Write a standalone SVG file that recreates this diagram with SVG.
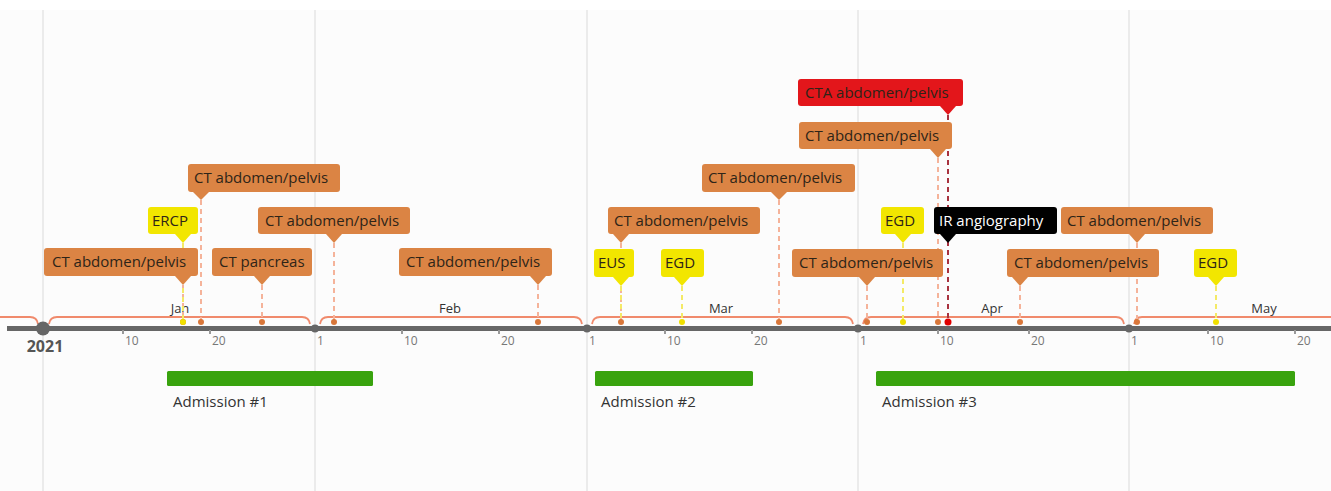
<svg xmlns="http://www.w3.org/2000/svg" width="1331" height="491" viewBox="0 0 1331 491">
<style>
text{font-family:"Open Sans","Noto Sans","Liberation Sans",sans-serif}
.grid{stroke:#e6e6e6;stroke-width:1.5}
.brk{fill:none;stroke:#f08a6c;stroke-width:1.8}
.mon{font-size:13px;fill:#333;text-anchor:middle}
.day{font-size:12px;fill:#777}
.tick{stroke:#999;stroke-width:2}
.adm{fill:#39a30e}
.admt{font-size:15px;fill:#333}
.lbl{font-size:15px;fill:#2e2418}
.o{fill:#db8444}
.y{fill:#f2e600}
.r{fill:#e3161b}
.k{fill:#000}
.lo{stroke:#f5b39a;stroke-width:2;stroke-dasharray:5 4}
.ly{stroke:#f4ea66;stroke-width:2;stroke-dasharray:5 4}
.lk{stroke:#a8323f;stroke-width:2;stroke-dasharray:5 4}
.dO{fill:#d9773a}
.dY{fill:#f0e000}
.dR{fill:#e00000}
</style>
<rect width="1331" height="491" fill="#fff"/>
<rect x="0" y="10" width="1331" height="481" fill="#fcfcfc"/>
<g id="gridlines">
<line class="grid" x1="43" y1="10" x2="43" y2="491"/>
<line class="grid" x1="315" y1="10" x2="315" y2="491"/>
<line class="grid" x1="587" y1="10" x2="587" y2="491"/>
<line class="grid" x1="858" y1="10" x2="858" y2="491"/>
<line class="grid" x1="1129" y1="10" x2="1129" y2="491"/>
</g>
<g id="brackets">
<path class="brk" d="M0 317 H30 Q37 317 38 324"/>
<path class="brk" d="M49 324 Q50 317 57 317 H302 Q309 317 310 324"/>
<path class="brk" d="M320 324 Q321 317 328 317 H574 Q581 317 582 324"/>
<path class="brk" d="M592 324 Q593 317 600 317 H845 Q852 317 853 324"/>
<path class="brk" d="M863 324 Q864 317 871 317 H1116 Q1123 317 1124 324"/>
<path class="brk" d="M1134 324 Q1135 317 1142 317 H1331"/>
<text class="mon" x="180" y="313">Jan</text>
<text class="mon" x="450" y="313">Feb</text>
<text class="mon" x="721" y="313">Mar</text>
<text class="mon" x="992" y="313">Apr</text>
<text class="mon" x="1264" y="313">May</text>
</g>
<g id="axis">
<line x1="7" y1="328.5" x2="1331" y2="328.5" stroke="#666" stroke-width="5"/>
<g class="tick">
<line x1="123" y1="330" x2="123" y2="334"/><line x1="210" y1="330" x2="210" y2="334"/>
<line x1="402" y1="330" x2="402" y2="334"/><line x1="499" y1="330" x2="499" y2="334"/>
<line x1="665" y1="330" x2="665" y2="334"/><line x1="752" y1="330" x2="752" y2="334"/>
<line x1="938" y1="330" x2="938" y2="334"/><line x1="1029" y1="330" x2="1029" y2="334"/>
<line x1="1208" y1="330" x2="1208" y2="334"/><line x1="1295" y1="330" x2="1295" y2="334"/>
</g>
<circle cx="43" cy="328.5" r="7" fill="#666"/>
<circle cx="315" cy="328.5" r="4" fill="#666"/>
<circle cx="587" cy="328.5" r="4" fill="#666"/>
<circle cx="858" cy="328.5" r="4" fill="#666"/>
<circle cx="1129" cy="328.5" r="4" fill="#666"/>
<text x="45" y="352" font-size="16" font-weight="bold" fill="#555" text-anchor="middle">2021</text>
<text class="day" x="125" y="345">10</text><text class="day" x="212" y="345">20</text>
<text class="day" x="317" y="345">1</text><text class="day" x="404" y="345">10</text><text class="day" x="501" y="345">20</text>
<text class="day" x="589" y="345">1</text><text class="day" x="667" y="345">10</text><text class="day" x="754" y="345">20</text>
<text class="day" x="860" y="345">1</text><text class="day" x="940" y="345">10</text><text class="day" x="1031" y="345">20</text>
<text class="day" x="1131" y="345">1</text><text class="day" x="1210" y="345">10</text><text class="day" x="1297" y="345">20</text>
</g>
<g id="connectors">
<line class="lo" x1="183" y1="285" x2="183" y2="322"/>
<line class="ly" x1="183" y1="243" x2="183" y2="322"/>
<line class="lo" x1="201" y1="200" x2="201" y2="322"/>
<line class="lo" x1="262" y1="285" x2="262" y2="322"/>
<line class="lo" x1="334" y1="243" x2="334" y2="322"/>
<line class="lo" x1="538" y1="285" x2="538" y2="322"/>
<line class="lo" x1="621" y1="243" x2="621" y2="322"/>
<line class="ly" x1="621" y1="286" x2="621" y2="322"/>
<line class="ly" x1="682" y1="286" x2="682" y2="322"/>
<line class="lo" x1="779" y1="200" x2="779" y2="322"/>
<line class="lo" x1="867" y1="286" x2="867" y2="322"/>
<line class="ly" x1="903" y1="243" x2="903" y2="322"/>
<line class="lo" x1="938" y1="158" x2="938" y2="322"/>
<line class="lk" x1="948" y1="115" x2="948" y2="322"/>
<line class="lo" x1="1020" y1="286" x2="1020" y2="322"/>
<line class="lo" x1="1137" y1="243" x2="1137" y2="322"/>
<line class="ly" x1="1216" y1="286" x2="1216" y2="322"/>
<circle class="dO" cx="183" cy="322" r="3"/><circle class="dY" cx="183" cy="322" r="3"/>
<circle class="dO" cx="201" cy="322" r="3"/><circle class="dO" cx="262" cy="322" r="3"/>
<circle class="dO" cx="334" cy="322" r="3"/><circle class="dO" cx="538" cy="322" r="3"/>
<circle class="dO" cx="621" cy="322" r="3"/><circle class="dY" cx="682" cy="322" r="3"/>
<circle class="dO" cx="779" cy="322" r="3"/><circle class="dO" cx="867" cy="322" r="3"/>
<circle class="dY" cx="903" cy="322" r="3"/><circle class="dO" cx="938" cy="322" r="3"/>
<circle class="dR" cx="948" cy="322" r="3.5"/><circle class="dO" cx="1020" cy="322" r="3"/>
<circle class="dO" cx="1137" cy="322" r="3"/><circle class="dY" cx="1216" cy="322" r="3"/>
</g>
<g id="ev1"><rect class="o" x="44" y="248" width="154" height="28" rx="3"/><path class="o" d="M175 276 L183 285 L191 276Z"/><text class="lbl" x="52" y="267">CT abdomen/pelvis</text></g>
<g id="ev4"><rect class="o" x="212" y="248" width="100" height="28" rx="3"/><path class="o" d="M254 276 L262 285 L270 276Z"/><text class="lbl" x="219" y="267">CT pancreas</text></g>
<g id="ev6"><rect class="o" x="399" y="248" width="153" height="28" rx="3"/><path class="o" d="M530 276 L538 285 L546 276Z"/><text class="lbl" x="406" y="267">CT abdomen/pelvis</text></g>
<g id="ev7"><rect class="y" x="594" y="249" width="40" height="28" rx="3"/><path class="y" d="M613 277 L621 286 L629 277Z"/><text class="lbl" x="598" y="268">EUS</text></g>
<g id="ev9"><rect class="y" x="661" y="249" width="43" height="28" rx="3"/><path class="y" d="M674 277 L682 286 L690 277Z"/><text class="lbl" x="665" y="268">EGD</text></g>
<g id="ev11"><rect class="o" x="792" y="249" width="151" height="28" rx="3"/><path class="o" d="M859 277 L867 286 L875 277Z"/><text class="lbl" x="799" y="268">CT abdomen/pelvis</text></g>
<g id="ev16"><rect class="o" x="1007" y="249" width="152" height="28" rx="3"/><path class="o" d="M1012 277 L1020 286 L1028 277Z"/><text class="lbl" x="1014" y="268">CT abdomen/pelvis</text></g>
<g id="ev18"><rect class="y" x="1194" y="249" width="43" height="28" rx="3"/><path class="y" d="M1208 277 L1216 286 L1224 277Z"/><text class="lbl" x="1198" y="268">EGD</text></g>
<g id="ev2"><rect class="y" x="148" y="207" width="50" height="27" rx="3"/><path class="y" d="M175 234 L183 243 L191 234Z"/><text class="lbl" x="152" y="226">ERCP</text></g>
<g id="ev5"><rect class="o" x="258" y="207" width="152" height="27" rx="3"/><path class="o" d="M326 234 L334 243 L342 234Z"/><text class="lbl" x="265" y="226">CT abdomen/pelvis</text></g>
<g id="ev8"><rect class="o" x="608" y="207" width="152" height="27" rx="3"/><path class="o" d="M613 234 L621 243 L629 234Z"/><text class="lbl" x="614" y="226">CT abdomen/pelvis</text></g>
<g id="ev12"><rect class="y" x="881" y="207" width="43" height="27" rx="3"/><path class="y" d="M895 234 L903 243 L911 234Z"/><text class="lbl" x="885" y="226">EGD</text></g>
<g id="ev13"><rect class="k" x="934" y="207" width="123" height="27" rx="3"/><path class="k" d="M940 234 L948 243 L956 234Z"/><text class="lbl" x="939" y="226" style="fill:#fff">IR angiography</text></g>
<g id="ev17"><rect class="o" x="1061" y="207" width="152" height="27" rx="3"/><path class="o" d="M1129 234 L1137 243 L1145 234Z"/><text class="lbl" x="1067" y="226">CT abdomen/pelvis</text></g>
<g id="ev3"><rect class="o" x="188" y="164" width="152" height="28" rx="3"/><path class="o" d="M193 192 L201 200 L209 192Z"/><text class="lbl" x="194" y="183">CT abdomen/pelvis</text></g>
<g id="ev10"><rect class="o" x="702" y="164" width="153" height="28" rx="3"/><path class="o" d="M771 192 L779 200 L787 192Z"/><text class="lbl" x="708" y="183">CT abdomen/pelvis</text></g>
<g id="ev14"><rect class="o" x="799" y="122" width="153" height="27" rx="3"/><path class="o" d="M930 149 L938 158 L946 149Z"/><text class="lbl" x="805" y="141">CT abdomen/pelvis</text></g>
<g id="ev15"><rect class="r" x="798" y="79" width="165" height="27" rx="3"/><path class="r" d="M940 106 L948 115 L956 106Z"/><text class="lbl" x="805" y="98">CTA abdomen/pelvis</text></g>
<g id="admissions">
<rect class="adm" x="167" y="371" width="206" height="15" rx="1.5"/>
<text class="admt" x="173" y="407">Admission #1</text>
<rect class="adm" x="595" y="371" width="158" height="15" rx="1.5"/>
<text class="admt" x="601" y="407">Admission #2</text>
<rect class="adm" x="876" y="371" width="419" height="15" rx="1.5"/>
<text class="admt" x="882" y="407">Admission #3</text>
</g>
</svg>
